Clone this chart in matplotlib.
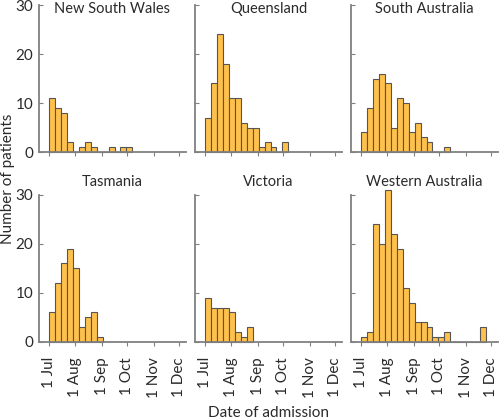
import numpy as np
import matplotlib
matplotlib.use("Agg")
import matplotlib.pyplot as plt

plt.rcParams["font.family"] = ["Lato", "DejaVu Sans"]

# weekly counts of admissions, first bin starting 1 Jul
states = ["New South Wales", "Queensland", "South Australia",
          "Tasmania", "Victoria", "Western Australia"]
nsw = [11, 9, 8, 2, 0, 1, 2, 1, 0, 0, 1, 0, 1, 1]
qld = [7, 14, 24, 18, 11, 11, 6, 5, 5, 1, 2, 1, 0, 2]
sa = [4, 9, 15, 16, 14, 5, 11, 10, 4, 6, 3, 2, 0, 0, 1]
tas = [6, 12, 16, 19, 15, 3, 5, 6, 1]
vic = [9, 7, 7, 7, 6, 2, 1, 3]
wa = [1, 2, 24, 20, 31, 22, 19, 11, 8, 4, 4, 3, 1, 1, 2, 0, 0, 0, 0, 0, 3]
counts = [nsw, qld, sa, tas, vic, wa]

tick_days = [0, 31, 62, 92, 123, 153]
tick_labels = ["1 Jul", "1 Aug", "1 Sep", "1 Oct", "1 Nov", "1 Dec"]
yticks = [0, 10, 20, 30]

BAR = "#FFC04C"
EDGE = "#555555"
AXC = "#808080"
TXT = "#2a2a2a"

fig = plt.figure(figsize=(5, 4.2), dpi=100)
lefts = [0.078, 0.39, 0.702]
bottoms = [0.638, 0.186]
W, H = 0.294, 0.350

for i, (name, c) in enumerate(zip(states, counts)):
    row, col = divmod(i, 3)
    ax = fig.add_axes([lefts[col], bottoms[row], W, H])
    ax.patch.set_alpha(0)
    x = np.arange(len(c)) * 7
    ax.bar(x, c, width=7, align="edge", color=BAR, edgecolor=EDGE,
           linewidth=0.8, clip_on=False, zorder=2)
    ax.set_xlim(-11.8, 161)
    ax.set_ylim(0, 30)
    for s in ["top", "right"]:
        ax.spines[s].set_visible(False)
    for s in ["left", "bottom"]:
        ax.spines[s].set_color(AXC)
        ax.spines[s].set_linewidth(1.3)
    ax.set_xticks(tick_days)
    ax.set_yticks(yticks)
    ax.tick_params(axis="x", direction="out", length=3, color=AXC,
                   labelsize=11, labelcolor=TXT, pad=8)
    ax.tick_params(axis="y", direction="in", length=3, color=AXC,
                   labelsize=11, labelcolor=TXT, pad=4)
    if row == 1:
        ax.set_xticklabels(tick_labels, rotation=90)
    else:
        ax.set_xticklabels([])
    if col != 0:
        ax.set_yticklabels([])
    ty = 0.975 if row == 0 else 1.09
    ax.text(0.5, ty, name, transform=ax.transAxes, ha="center", va="center",
            fontsize=10.5, color=TXT)

fig.text(0.016, 0.575, "Number of patients", rotation=90, ha="center",
         va="center", fontsize=11, color=TXT)
fig.text(0.536, 0.016, "Date of admission", ha="center", va="center",
         fontsize=11, color=TXT)

fig.savefig("out.png", dpi=100, transparent=True)
